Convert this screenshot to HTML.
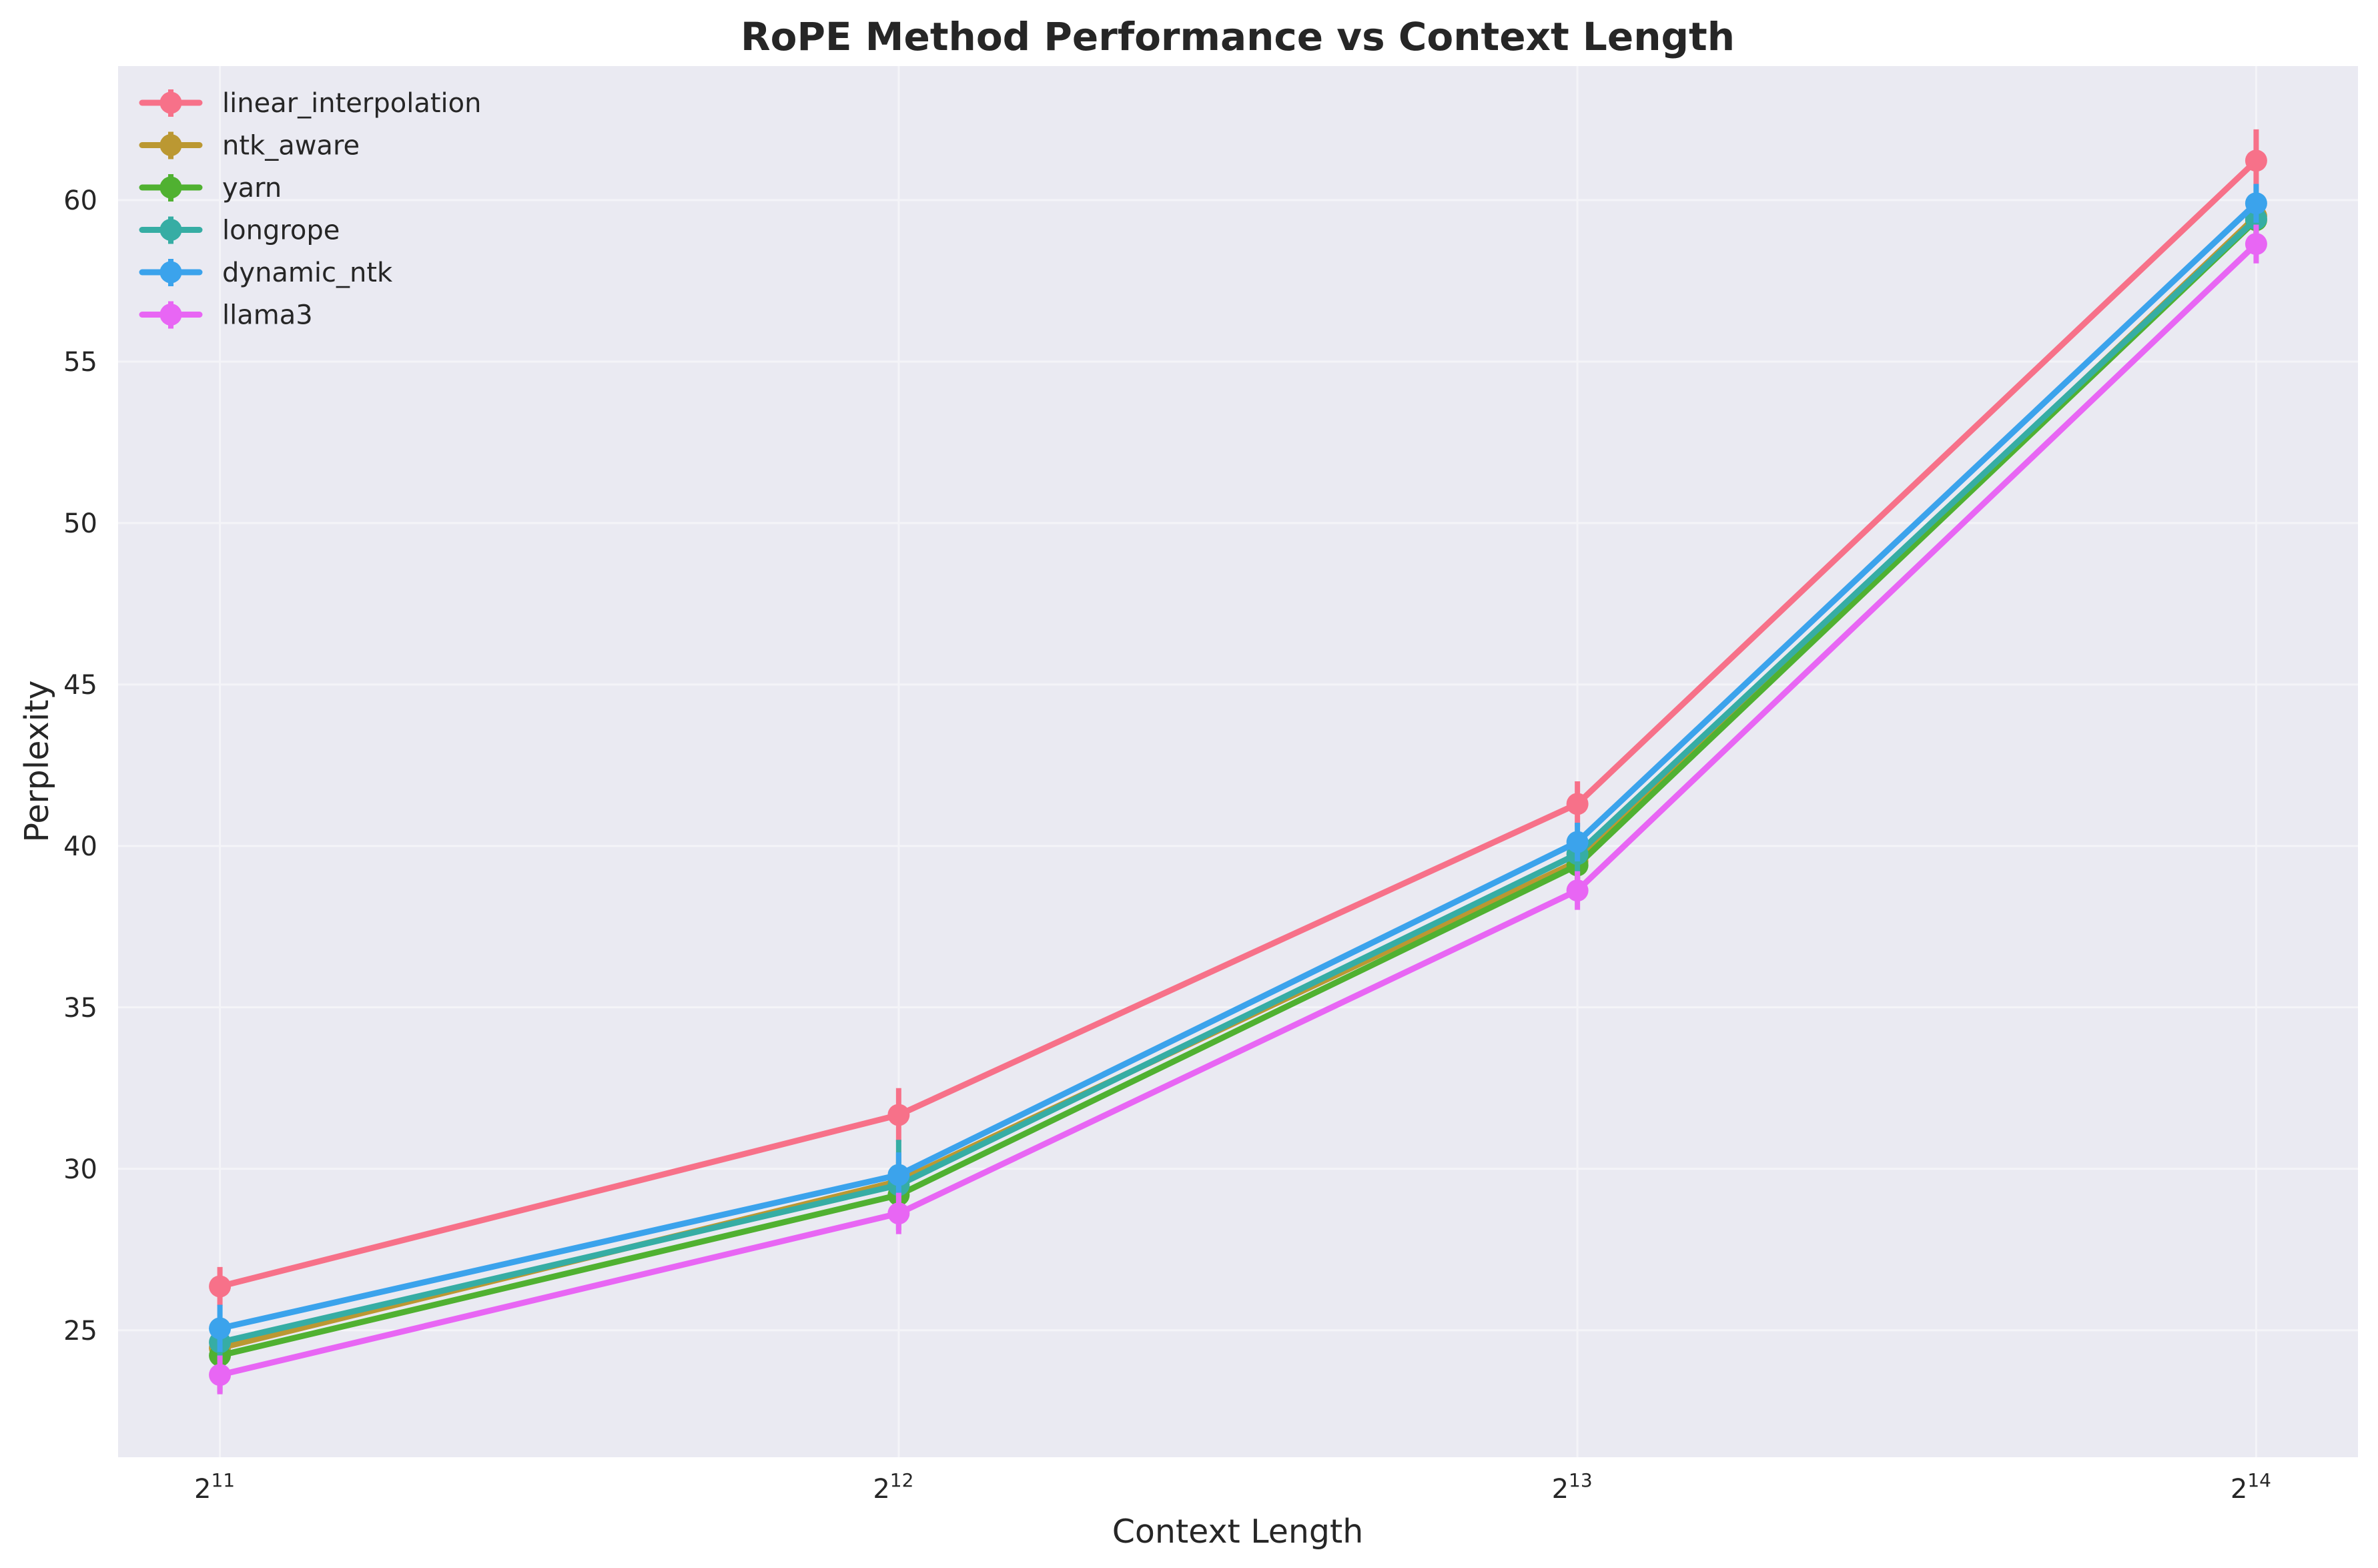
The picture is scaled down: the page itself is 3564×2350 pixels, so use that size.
<!DOCTYPE html>
<html><head><meta charset="utf-8">
<style>
html,body{margin:0;padding:0;background:#fff;}
svg{display:block;font-family:"DejaVu Sans","Liberation Sans",sans-serif;}
</style></head>
<body>
<svg id="chart" width="3564" height="2350" viewBox="0 0 3564 2350" xmlns="http://www.w3.org/2000/svg">
<rect x="0" y="0" width="3564" height="2350" fill="#ffffff"/>
<rect x="177" y="99" width="3357" height="2085" fill="#eaeaf2"/>
<g id="grid"></g>
<g id="series"></g>
<g id="ticks"></g>
<g id="legend"></g>
<text x="1855" y="75" text-anchor="middle" font-size="58" font-weight="bold" fill="#262626">RoPE Method Performance vs Context Length</text>
<text x="1855" y="2312" text-anchor="middle" font-size="49" fill="#262626">Context Length</text>
<text transform="translate(72,1141) rotate(-90)" text-anchor="middle" font-size="49" fill="#262626">Perplexity</text>
</svg>
<script>
const categories = [11, 12, 13, 14];
const seriesNames = ["linear_interpolation","ntk_aware","yarn","longrope","dynamic_ntk","llama3"];
const seriesColors = ["#f77189","#bb9832","#50b131","#36ada4","#3ba3ec","#e866f4"];
const linearValues = [26.36, 31.67, 41.30, 61.22];
const ntkValues = [24.45, 29.62, 39.52, 59.50];
const yarnValues = [24.22, 29.19, 39.40, 59.38];
const longropeValues = [24.63, 29.50, 39.75, 59.42];
const dynamicValues = [25.06, 29.81, 40.12, 59.90];
const llamaValues = [23.62, 28.62, 38.62, 58.64];
const linearErr = [0.6, 0.83, 0.7, 0.97];
const ntkErr = [0.5, 0.6, 0.6, 0.6];
const yarnErr = [1.15, 0.6, 0.6, 0.6];
const longropeErr = [0.5, 1.4, 0.6, 0.6];
const dynamicErr = [0.73, 0.7, 0.6, 0.6];
const llamaErr = [0.6, 0.64, 0.6, 0.6];
const yTicks = [25, 30, 35, 40, 45, 50, 55, 60];

const allValues = [linearValues, ntkValues, yarnValues, longropeValues, dynamicValues, llamaValues];
const allErr = [linearErr, ntkErr, yarnErr, longropeErr, dynamicErr, llamaErr];

const NS = "http://www.w3.org/2000/svg";
const L = 177, R = 3534, T = 99, B = 2184;
const xMin = 10.85, xMax = 14.15;
const yMin = 21.07, yMax = 64.15;
function xs(e){ return L + (e - xMin) / (xMax - xMin) * (R - L); }
function ys(v){ return B - (v - yMin) / (yMax - yMin) * (B - T); }
function mk(tag, attrs, parent){
  const el = document.createElementNS(NS, tag);
  for (const k in attrs) el.setAttribute(k, attrs[k]);
  parent.appendChild(el);
  return el;
}
const grid = document.getElementById('grid');
const ticks = document.getElementById('ticks');
yTicks.forEach(v => {
  const g = mk('line', {x1:L, x2:R, y1:ys(v), y2:ys(v), stroke:'#f4f4f8', 'stroke-width':3}, grid);
  
  
  const t = mk('text', {x:146, y:ys(v)+14, 'text-anchor':'end', 'font-size':40, fill:'#262626'}, ticks);
  t.textContent = String(v);
  
  
});
categories.forEach(c => {
  const g = mk('line', {x1:xs(c), x2:xs(c), y1:T, y2:B, stroke:'#f4f4f8', 'stroke-width':3}, grid);
  
  
  const t = mk('text', {x:xs(c)-8, y:2245, 'text-anchor':'middle', 'font-size':40, fill:'#262626'}, ticks);
  
  
  const base = document.createElementNS(NS, 'tspan');
  base.textContent = '2';
  t.appendChild(base);
  const sup = document.createElementNS(NS, 'tspan');
  sup.setAttribute('dy', '-17');
  sup.setAttribute('font-size', '28');
  sup.textContent = String(c);
  t.appendChild(sup);
});
const seriesG = document.getElementById('series');
allValues.forEach((vals, i) => {
  const g = mk('g', {}, seriesG);
  
  
  const pts = vals.map((v, j) => xs(categories[j]) + ',' + ys(v)).join(' ');
  const pl = mk('polyline', {points:pts, fill:'none', stroke:seriesColors[i], 'stroke-width':9, 'stroke-linejoin':'round'}, g);
  
  
  vals.forEach((v, j) => {
    const e = allErr[i][j];
    const eb = mk('line', {x1:xs(categories[j]), x2:xs(categories[j]), y1:ys(v+e), y2:ys(v-e), stroke:seriesColors[i], 'stroke-width':8}, g);
    
    
    const c = mk('circle', {cx:xs(categories[j]), cy:ys(v), r:16.5, fill:seriesColors[i]}, g);
    
    
  });
});
const legend = document.getElementById('legend');


seriesNames.forEach((n, i) => {
  const y = 154 + i * 63.5;
  const g = mk('g', {}, legend);
  
  
  mk('line', {x1:213, x2:299, y1:y, y2:y, stroke:seriesColors[i], 'stroke-width':9, 'stroke-linecap':'round'}, g);
  mk('line', {x1:256, x2:256, y1:y-20, y2:y+21, stroke:seriesColors[i], 'stroke-width':8}, g);
  mk('circle', {cx:256, cy:y, r:16.5, fill:seriesColors[i]}, g);
  const t = mk('text', {x:333, y:y+14, 'font-size':40, fill:'#262626'}, g);
  t.textContent = n;
});
</script>
</body></html>
